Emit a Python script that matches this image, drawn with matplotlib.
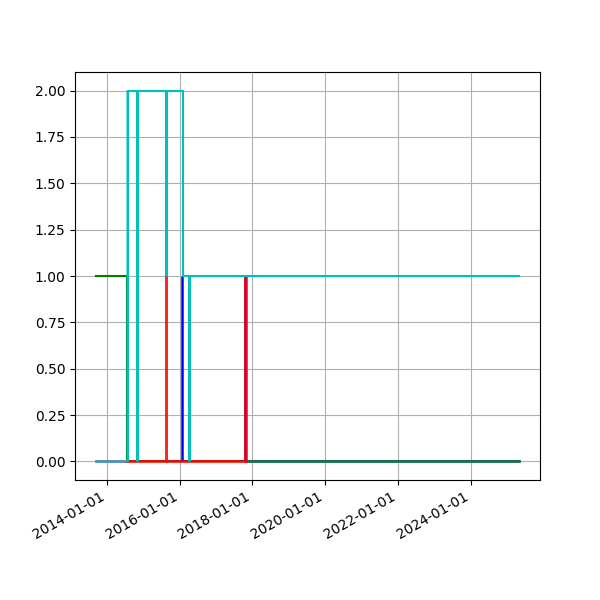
import matplotlib
matplotlib.use("Agg")
import matplotlib.pyplot as plt
import matplotlib.dates as mdates
import pandas as pd

# Step series (steps-post)
green_dates = ["2013-09-15", "2014-07-20", "2025-04-27"]
green_vals = [1, 0, 0]

base_dates = ["2013-09-15", "2014-07-20"]
base_vals = [0, 0]

red_dates = ["2014-07-20", "2015-08-13", "2015-08-15", "2017-10-22", "2017-10-25", "2017-10-26"]
red_vals = [0, 1, 0, 1, 0, 0]

tail_dates = ["2017-10-25", "2025-04-27"]
tail_vals = [0, 0]

cyan_dates = ["2014-07-20", "2014-07-27", "2016-02-01", "2025-04-27"]
cyan_vals = [0, 2, 1, 1]

cyan_light_dates = ["2014-07-18", "2014-07-19", "2016-02-03", "2016-02-04"]
cyan_light_vals = [0, 2, 1, 1]

# Spike events
blue_spike_dates = ["2016-01-28", "2017-10-21"]
blue_spike_lo = [0, 0]
blue_spike_hi = [1, 1]

cyan_spike_dates = ["2014-10-26", "2015-08-14", "2016-03-31"]
cyan_spike_lo = [0, 1, 0]
cyan_spike_hi = [2, 2, 1]

to_dt = lambda d: pd.to_datetime(d)

fig, ax = plt.subplots(figsize=(6, 6), dpi=100)

ax.step(to_dt(green_dates), green_vals, where="post", color="g", lw=1.5)
ax.step(to_dt(base_dates), base_vals, where="post", color="#4a8fb8", lw=2)
ax.step(to_dt(tail_dates), tail_vals, where="post", color="#1d6b52", lw=2)
ax.vlines(to_dt(blue_spike_dates), blue_spike_lo, blue_spike_hi, color="b", lw=1.8)
ax.step(to_dt(red_dates), red_vals, where="post", color="r", lw=2, alpha=0.85)
ax.step(to_dt(cyan_light_dates), cyan_light_vals, where="post", color="c", lw=1.5, alpha=0.5)
ax.step(to_dt(cyan_dates), cyan_vals, where="post", color="c", lw=1.5)
ax.vlines(to_dt(cyan_spike_dates), cyan_spike_lo, cyan_spike_hi, color="c", lw=2.2)

ax.grid(True)
ax.xaxis.set_major_locator(mdates.YearLocator(2))
ax.xaxis.set_major_formatter(mdates.DateFormatter("%Y-%m-%d"))
fig.autofmt_xdate()

fig.savefig("out.png", dpi=100)
